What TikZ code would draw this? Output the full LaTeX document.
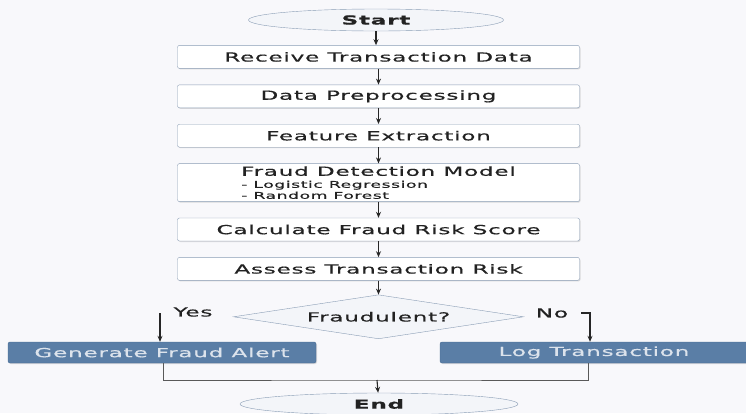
\documentclass[tikz,border=0pt]{standalone}
\usepackage{fontspec}
\setmainfont{DejaVu Sans}
\newfontfamily\flowfont[FakeStretch=1.85,LetterSpace=6,FakeBold=0.6]{DejaVu Sans}
\usetikzlibrary{positioning,shapes.geometric,shadows,arrows.meta}
\definecolor{bgcol}{HTML}{F8F8FB}
\definecolor{boxline}{HTML}{8A9DB5}
\definecolor{ovalfill}{HTML}{F3F5F9}
\definecolor{alertblue}{HTML}{5A7EA6}
\definecolor{alertline}{HTML}{456A92}
\definecolor{alerttext}{HTML}{DCE3EC}
\definecolor{inktext}{HTML}{222222}
\newcommand{\listfont}{\fontsize{9.3}{10}\selectfont}
\newcommand{\tightlines}{\lineskiplimit=-20pt\relax}
\tikzset{
	>={Stealth[length=6pt,width=5pt]},
	node distance=16pt,
	every node/.style={font=\flowfont\fontsize{12.5}{14}\selectfont, text=inktext},
}

\begin{document}
\begin{tikzpicture}[
            x=1pt, y=-1pt,
            terminal/.style={ellipse, draw=boxline, fill=ovalfill, inner sep=0pt,
                minimum width=255pt, minimum height=22pt, font=\flowfont\fontsize{12.5}{14}\selectfont\bfseries},
            process/.style={draw=boxline, fill=white, rounded corners=2pt, inner sep=0pt,
                minimum width=402pt, minimum height=23pt,
                drop shadow={shadow xshift=1pt, shadow yshift=-1pt, opacity=0.25}},
            decision/.style={diamond, draw=boxline, fill=ovalfill, inner sep=0pt, aspect=6.6,
                minimum width=290pt, minimum height=44pt},
            outcome/.style={draw=alertline, fill=alertblue, text=alerttext, rounded corners=2pt,
                inner sep=0pt, minimum width=308pt, minimum height=21pt,
                drop shadow={shadow xshift=1pt, shadow yshift=-1pt, opacity=0.25}},
            flow/.style={->, line width=1.1pt, black!85},
            joint/.style={line width=1pt, black!65}
        ]
        \fill[bgcol] (0,0) rectangle (746,413);
        \useasboundingbox (0,0) rectangle (746,413);

        \node[terminal] (start) at (376,20) {Start};
        \node[process, below=14pt of start, xshift=2.5pt] (receive) {Receive Transaction Data};
        \node[process, below=of receive] (prep) {Data Preprocessing};
        \node[process, below=of prep] (feature) {Feature Extraction};
        \node[process, below=of feature, minimum height=38pt, align=left,
              font=\flowfont\fontsize{12.5}{14}\selectfont\tightlines] (model)
            {Fraud Detection Model\\[-2pt]
             \listfont - Logistic Regression\\[-3pt]
             \listfont - Random Forest};
        \node[process, below=of model] (score) {Calculate Fraud Risk Score};
        \node[process, below=of score] (assess) {Assess Transaction Risk};
        \node[decision, below=14pt of assess] (fraud) {Fraudulent?};

        \node[outcome] (alert) at (162,352.5) {Generate Fraud Alert};
        \node[outcome] (logtx) at (594,352.5) {Log Transaction};
        \node[terminal, minimum width=278pt] (end) at (379,404) {End};

        % branch labels
        \node (yeslbl) at (193,312) {Yes};
        \node (nolbl) at (552,313) {No};
        \coordinate (yesfrom) at (160,313);
        \coordinate (nofrom) at (581,313);
        \coordinate (joinpt) at (377,380);

        \draw[flow] (start) -- (start |- receive.north);
        \draw[flow] (receive) -- (prep);
        \draw[flow] (prep) -- (feature);
        \draw[flow] (feature) -- (model);
        \draw[flow] (model) -- (score);
        \draw[flow] (score) -- (assess);
        \draw[flow] (assess) -- (fraud);
        \draw[flow] (yesfrom) -- (yesfrom |- alert.north);
        \draw[flow] (nofrom) -| ([xshift=-4pt]logtx.north);
        \draw[joint] ([xshift=1pt]alert.south) |- (joinpt) -| ([xshift=-6pt]logtx.south);
        \draw[flow] (joinpt) -- (end);
    \end{tikzpicture}
\end{document}
